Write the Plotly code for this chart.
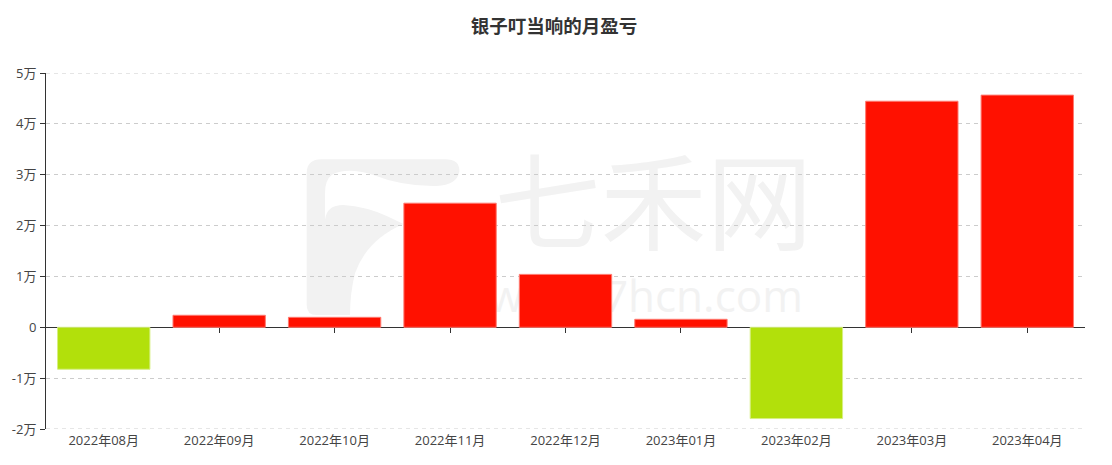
import plotly.graph_objects as go

# ---- data ----
months = ["2022年08月", "2022年09月", "2022年10月", "2022年11月", "2022年12月",
          "2023年01月", "2023年02月", "2023年03月", "2023年04月"]
profit = [-8250, 2360, 1960, 24400, 10400, 1570, -17950, 44450, 45650]
ytick_vals = [-20000, -10000, 0, 10000, 20000, 30000, 40000, 50000]
ytick_text = ["-2万", "-1万", "0", "1万", "2万", "3万", "4万", "5万"]
title_text = "银子叮当响的月盈亏"

RED, RED_EDGE = "#ff1100", "#ff7a70"
GREEN, GREEN_EDGE = "#b2e00b", "#d6ef80"

# page is offset by the browser's 8px body margin; size the figure to compensate
OFF = 8
W, H = 1112 - OFF, 465 - OFF
L, R, T, B = 46 - OFF, 27, 73 - OFF, 36
PW, PH = W - L - R, H - T - B
FONT = "Noto Sans CJK SC"
TICKFONT = "Open Sans, Noto Sans CJK SC"
GRID = "#cccccc"
DASH = "4px,4px"

colors = [RED if v >= 0 else GREEN for v in profit]
edges = [RED_EDGE if v >= 0 else GREEN_EDGE for v in profit]

fig = go.Figure()
fig.add_trace(go.Bar(
    x=months, y=profit,
    marker=dict(color=colors, line=dict(color=edges, width=1)),
    hoverinfo="x+y", showlegend=False,
))
# invisible trace to materialise the zero-level axis with ticks
fig.add_trace(go.Scatter(x=months, y=profit, xaxis="x2", mode="markers",
                         marker=dict(opacity=0), hoverinfo="skip", showlegend=False))

ymin, ymax = -20000, 50000

# ---- watermark (decorative, below grid); page pixel -> paper ----
def px(X):
    return (X - 46) / PW

def py(Y):
    return (429 - Y) / PH

def zpath(pts_cmds):
    out = []
    for item in pts_cmds:
        if isinstance(item, str):
            out.append(item)
        else:
            zx, zy = item
            X = 290 + zx / 3
            Y = 140 + zy / 3
            out.append(f"{px(X):.4f},{py(Y):.4f}")
    return " ".join(out)

WM = "#f2f2f2"
logo1 = zpath(["M", (50, 330), "L", (50, 100), "Q", (50, 58), (95, 58), "L", (465, 58),
               "Q", (510, 58), (508, 95), "Q", (500, 135), (440, 138),
               "Q", (340, 140), (250, 105), "Q", (170, 80), (125, 105),
               "Q", (105, 120), (105, 160), "L", (105, 330), "Z"])
logo2 = zpath(["M", (50, 330), "L", (105, 330), "L", (105, 240), "Q", (110, 195), (160, 195),
               "Q", (230, 200), (290, 228), "Q", (320, 242), (340, 252),
               "Q", (230, 300), (195, 400), "Q", (180, 460), (180, 525),
               "L", (80, 525), "Q", (50, 525), (50, 495), "Z"])

shapes = [
    dict(type="path", xref="paper", yref="paper", path=logo1, fillcolor=WM,
         line=dict(width=0), layer="below"),
    dict(type="path", xref="paper", yref="paper", path=logo2, fillcolor=WM,
         line=dict(width=0), layer="below"),
    dict(type="rect", xref="paper", yref="paper",
         x0=px(505), x1=px(802), y0=py(270), y1=py(155),
         line=dict(width=0), fillcolor="rgba(0,0,0,0)", layer="below",
         label=dict(text="七禾网", font=dict(size=106, color=WM, family=FONT),
                    textposition="middle center")),
    dict(type="rect", xref="paper", yref="paper",
         x0=px(490), x1=px(802), y0=py(318), y1=py(278),
         line=dict(width=0), fillcolor="rgba(0,0,0,0)", layer="below",
         label=dict(text="www.7hcn.com", font=dict(size=44, color=WM, family="Open Sans"),
                    textposition="middle center")),
]
# edge gridlines (Plotly omits gridlines at the range ends)
for yv in (ymin, ymax):
    shapes.append(dict(type="line", xref="paper", yref="y", x0=0, x1=1, y0=yv, y1=yv,
                       line=dict(color=GRID, width=1, dash=DASH), layer="below"))

fig.update_layout(
    width=W, height=H,
    margin=dict(l=L, r=R, t=T, b=B, pad=0, autoexpand=False),
    paper_bgcolor="white", plot_bgcolor="white",
    font=dict(family=FONT, size=12, color="#444"),
    title=dict(text=f"<b>{title_text}</b>", x=(554 - OFF) / W, xanchor="center",
               y=1 - (27 - OFF) / H, yanchor="middle", yref="container",
               font=dict(size=18.5, color="#333", family=FONT), automargin=False),
    bargap=0.2,
    shapes=shapes,
    xaxis=dict(type="category", categoryorder="array", categoryarray=months,
               showline=False, showgrid=False, zeroline=False, ticks="",
               tickfont=dict(size=13, color="#444", family=TICKFONT), ticklabelstandoff=2,
               fixedrange=True, automargin=False),
    xaxis2=dict(type="category", categoryorder="array", categoryarray=months,
                overlaying="x", matches="x", anchor="free",
                position=(0 - ymin) / (ymax - ymin),
                showline=True, linecolor="#333", linewidth=1,
                ticks="outside", ticklen=5, tickcolor="#333", tickwidth=1,
                showticklabels=False, showgrid=False, zeroline=False,
                layer="below traces", automargin=False),
    yaxis=dict(range=[ymin, ymax], tickvals=ytick_vals, ticktext=ytick_text,
               showline=True, linecolor="#333", linewidth=1,
               ticks="outside", ticklen=5, tickcolor="#333",
               showgrid=True, gridcolor=GRID, griddash=DASH, gridwidth=1,
               zeroline=False, tickfont=dict(size=13, color="#444", family=TICKFONT),
               ticklabelstandoff=1, fixedrange=True, automargin=False),
)

fig.write_html("out.html")
